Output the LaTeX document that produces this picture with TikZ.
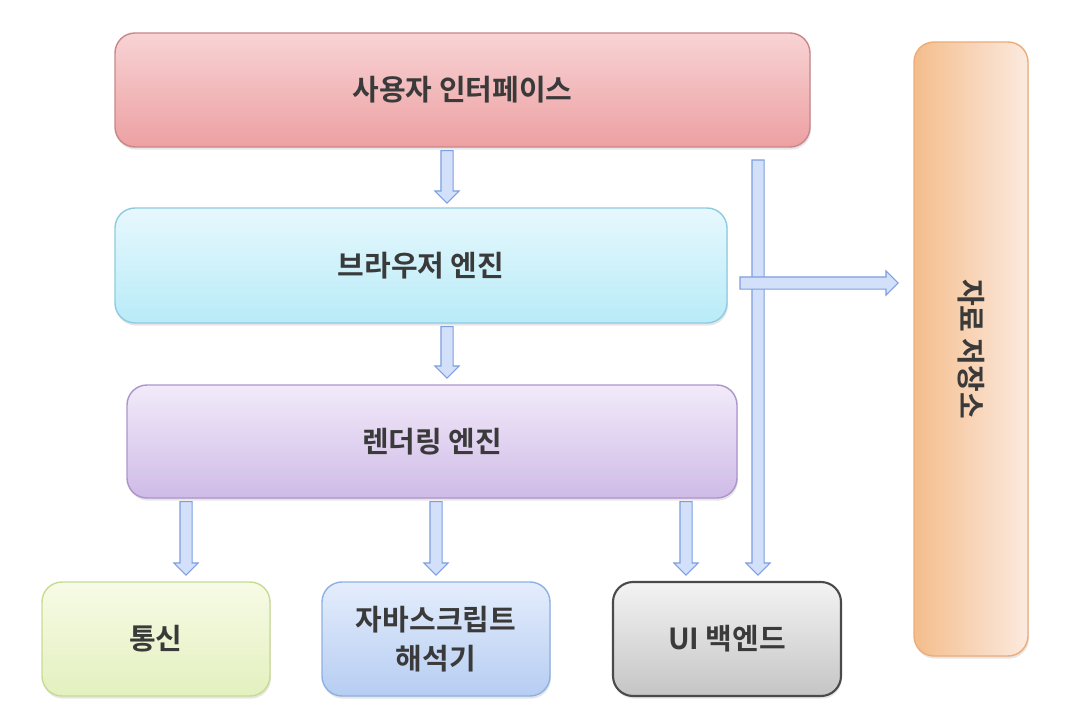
\documentclass[tikz,border=0pt]{standalone}
\usepackage{fontspec}
\setmainfont{Noto Sans CJK KR}[BoldFont={Noto Sans CJK KR Bold}]
\usetikzlibrary{calc,shapes.arrows,shadows}
\definecolor{txt}{HTML}{3A3A3A}
\definecolor{uitop}{HTML}{F8D3D4}
\definecolor{uibot}{HTML}{EDA0A2}
\definecolor{uiline}{HTML}{C98789}
\definecolor{betop}{HTML}{E7F8FD}
\definecolor{bebot}{HTML}{B8EBF8}
\definecolor{beline}{HTML}{8FCBE0}
\definecolor{retop}{HTML}{F2EAFA}
\definecolor{rebot}{HTML}{CFBBE7}
\definecolor{reline}{HTML}{AC95CB}
\definecolor{nettop}{HTML}{F7FBE6}
\definecolor{netbot}{HTML}{E3F0BE}
\definecolor{netline}{HTML}{C7DB93}
\definecolor{jstop}{HTML}{E4EDFC}
\definecolor{jsbot}{HTML}{B6CDF2}
\definecolor{jsline}{HTML}{8EB0E2}
\definecolor{uibtop}{HTML}{F3F3F3}
\definecolor{uibbot}{HTML}{C5C5C5}
\definecolor{uibline}{HTML}{4A4A4A}
\definecolor{stleft}{HTML}{F4BD8C}
\definecolor{stright}{HTML}{FCEADF}
\definecolor{stline}{HTML}{EEAC78}
\definecolor{arrowfill}{HTML}{D3E0F9}
\definecolor{arrowline}{HTML}{7D9EE0}
\newcommand{\blockarrow}[2]{%
  \path let \p1=(#1), \p2=(#2), \n1={veclen(\x2-\x1,\y2-\y1)}, \n2={atan2(\y2-\y1,\x2-\x1)} in
    node[blockarr, minimum height=\n1, rotate=\n2] at ($(#1)!0.5!(#2)$) {};}
\begin{document}
\begin{tikzpicture}[
  box/.style={rounded corners=0.4cm, line width=0.8pt, text=txt, align=center,
    font=\fontsize{16.5}{22}\selectfont\bfseries,
    drop shadow={opacity=0.2, shadow xshift=0.5pt, shadow yshift=-1.5pt}},
  blockarr/.style={single arrow, draw=arrowline, fill=arrowfill, line width=0.6pt,
    inner xsep=0pt, inner ysep=0.11cm, single arrow head extend=0.12cm}
]
\useasboundingbox (0,0) rectangle (21.84,-14.32);
\node[box, draw=uiline, top color=uitop, bottom color=uibot, minimum width=13.9cm, minimum height=2.28cm] (ui) at (9.25,-1.80) {사용자 인터페이스};
\node[box, draw=beline, top color=betop, bottom color=bebot, minimum width=12.24cm, minimum height=2.3cm] (be) at (8.42,-5.31) {브라우저 엔진};
\node[box, draw=reline, top color=retop, bottom color=rebot, minimum width=12.2cm, minimum height=2.26cm] (re) at (8.64,-8.83) {렌더링 엔진};
\node[box, draw=netline, top color=nettop, bottom color=netbot, minimum width=4.56cm, minimum height=2.28cm] (net) at (3.12,-12.78) {통신};
\node[box, draw=jsline, top color=jstop, bottom color=jsbot, minimum width=4.56cm, minimum height=2.28cm] (js) at (8.72,-12.78) {자바스크립트\\해석기};
\node[box, draw=uibline, line width=1.2pt, top color=uibtop, bottom color=uibbot, minimum width=4.56cm, minimum height=2.28cm] (uib) at (14.54,-12.78) {UI 백엔드};
\node[box, draw=stline, left color=stleft, right color=stright, minimum width=2.28cm, minimum height=12.28cm] (store) at (19.42,-6.98) {};
\node[text=txt, font=\fontsize{16.5}{22}\selectfont\bfseries, rotate=-90] (storetext) at (store.center) {자료 저장소};
\coordinate (a1s) at (8.94,0 |- ui.south);
\coordinate (a1e) at (8.94,-4.00);
\coordinate (a2s) at (8.94,0 |- be.south);
\coordinate (a2e) at (8.94,-7.50);
\coordinate (a3s) at (3.72,0 |- re.south);
\coordinate (a3e) at (3.72,-11.44);
\coordinate (a4s) at (8.72,0 |- re.south);
\coordinate (a4e) at (8.72,-11.44);
\coordinate (a5s) at (13.72,0 |- re.south);
\coordinate (a5e) at (13.72,-11.44);
\coordinate (a6s) at (15.16,-3.14);
\coordinate (a6e) at (15.16,-11.44);
\coordinate (a7s) at (14.74,-5.66);
\coordinate (a7e) at (17.90,-5.66);
\blockarrow{a1s}{a1e}
\blockarrow{a2s}{a2e}
\blockarrow{a3s}{a3e}
\blockarrow{a4s}{a4e}
\blockarrow{a5s}{a5e}
\blockarrow{a6s}{a6e}
\blockarrow{a7s}{a7e}
\end{tikzpicture}
\end{document}
